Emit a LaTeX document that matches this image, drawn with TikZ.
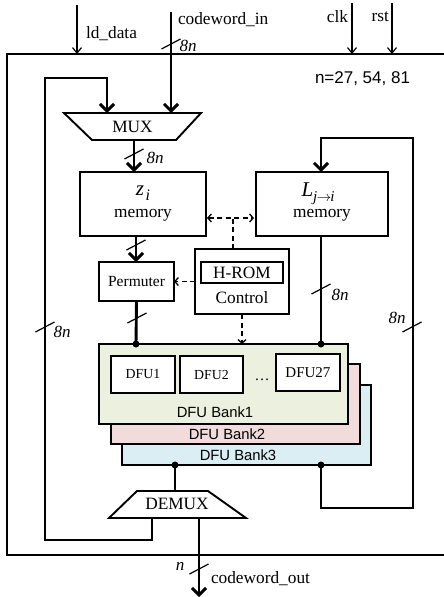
\documentclass[tikz,border=0pt]{standalone}
\usepackage{fontspec}
\setmainfont{Liberation Serif}
\newfontfamily\sansf{Liberation Sans}
\usetikzlibrary{arrows.meta,calc}
\definecolor{bankA}{HTML}{EBF1DE}
\definecolor{bankB}{HTML}{F2DCDB}
\definecolor{bankC}{HTML}{DBEEF3}
\tikzset{busmark/.pic={\draw[line width=1.2pt] (-9.5,5) -- (9.5,-5);}}
\begin{document}
\begin{tikzpicture}[x=1pt,y=-1pt,
  every node/.style={inner sep=0pt, outer sep=0pt},
  lbl/.style={font=\fontsize{17.3}{19}\selectfont},
  buslbl/.style={font=\fontsize{17}{19}\selectfont\itshape},
  boxst/.style={draw, line width=1.9pt, fill=white},
  bankst/.style={draw, line width=1.7pt, minimum width=249pt, minimum height=80pt},
  banklbl/.style={font=\sansf\fontsize{14.8}{16}\selectfont},
  dfust/.style={draw, line width=1.5pt, fill=white, minimum width=64pt, minimum height=37pt, font=\fontsize{13.8}{15}\selectfont},
  thickbus/.style={line width=2.9pt},
  thickarrow/.style={line width=2.9pt, -{Straight Barb[length=7pt,width=14pt]}},
  thinarrow/.style={line width=1.2pt, -{Straight Barb[length=5.5pt,width=9pt]}},
  dashline/.style={line width=1.3pt, dash pattern=on 5pt off 3.5pt},
  dasharrow/.style={dashline, -{Straight Barb[length=3.5pt,width=8pt]}},
  dasharrows/.style={dashline, {Straight Barb[length=3.5pt,width=8pt]}-{Straight Barb[length=3.5pt,width=8pt]}},
  dotst/.style={circle, fill=black, minimum size=7pt}
]
\useasboundingbox (0,0) rectangle (444,597);
\fill[white] (0,0) rectangle (444,597);

% outer frame
\node[draw, line width=1.4pt, minimum width=445pt, minimum height=501pt, anchor=north west] (frame) at (7,54) {};

% top inputs
\coordinate (ldtop) at (77,5);
\coordinate (cwin) at (171,12);
\coordinate (clktop) at (352,3);
\coordinate (rsttop) at (392,3);
\draw[thinarrow] (ldtop) -- (ldtop |- frame.north);
\draw[thinarrow] (clktop) -- (clktop |- frame.north);
\draw[thinarrow] (rsttop) -- (rsttop |- frame.north);
\node[lbl, anchor=west] (ldlbl) at (86,34) {ld\_data};
\node[lbl, anchor=west] (cwinlbl) at (178,20) {codeword\_in};
\node[lbl, anchor=east] (clklbl) at (348,17) {clk};
\node[lbl, anchor=east] (rstlbl) at (389,17) {rst};
\node[anchor=west, font=\sansf\fontsize{17}{19}\selectfont] (nlbl) at (315,79) {n=27, 54, 81};

% MUX
\draw[line width=1.9pt] (64,113) -- (201,113) -- (176,140) -- (92,140) -- cycle;
\node[lbl] (mux) at (132.5,127) {MUX};
\coordinate (muxinA) at (107,113);
\coordinate (muxinB) at (171,113);
\coordinate (muxout) at (134,140);

\draw[thickarrow] (cwin) -- (muxinB);
\pic at (171,44) {busmark};
\node[buslbl] (b1) at (188,46) {8n};

% memories
\node[boxst, minimum width=126pt, minimum height=64pt] (zmem) at (143,204) {};
\node[boxst, minimum width=132pt, minimum height=64pt] (Lmem) at (322,204) {};
\node (ztxt) at (143,193) {{\fontsize{21}{21}\selectfont\itshape z}\,\raisebox{-5pt}{\fontsize{16}{16}\selectfont\itshape i}};
\node[lbl] (zmemtxt) at (143,215) {memory};
\node (Ltxt) at (318,194) {{\fontsize{21}{21}\selectfont\itshape L}\raisebox{-5pt}{\fontsize{15}{15}\selectfont\itshape j\kern-0.5pt$\rightarrow$\kern-1pti}};
\node[lbl] (Lmemtxt) at (322,215) {memory};

\draw[thickarrow] (muxout) -- (muxout |- zmem.north);
\pic at (134,154) {busmark};
\node[buslbl] (b2) at (155,158) {8n};

% permuter & control
\node[boxst, minimum width=75pt, minimum height=39pt, font=\fontsize{15.5}{16}\selectfont] (perm) at (136.5,281.5) {Permuter};
\node[boxst, minimum width=94pt, minimum height=65pt] (ctrl) at (242,281.5) {};
\node[draw, line width=1.9pt, minimum width=82pt, minimum height=21pt, lbl] (hrom) at (242,272.5) {H-ROM};
\node[lbl] (ctrltxt) at (242,298) {Control};

\coordinate (zout) at (136,236);
\draw[thickarrow] (zout) -- (zout |- perm.north);
\pic at (136,245) {busmark};

% dashed control lines
\coordinate (dashL) at (207,218);
\coordinate (dashR) at (254,218);
\draw[dasharrows] (dashL) -- (dashR);
\coordinate (ctrltop) at (233,218);
\draw[dashline] (ctrltop |- ctrl.north) -- (ctrltop);
\draw[dasharrow] (ctrl.west |- perm.east) -- (perm.east);

% DFU banks
\node[bankst, fill=bankC] (bank3) at (246.5,425) {};
\node[bankst, fill=bankB] (bank2) at (235.5,404) {};
\node[bankst, fill=bankA] (bank1) at (223.5,384) {};
\node[banklbl] (bank1lbl) at (215,412) {DFU Bank1};
\node[banklbl] (bank2lbl) at (227,434) {DFU Bank2};
\node[banklbl] (bank3lbl) at (238,455) {DFU Bank3};
\node[dfust] (dfu1) at (143,374.5) {DFU1};
\node[dfust, minimum width=63pt] (dfu2) at (211.5,374.5) {DFU2};
\node[font=\fontsize{15}{16}\selectfont] (dots) at (262,380) {\dots};
\node[dfust, font=\fontsize{15}{16}\selectfont] (dfu27) at (308,372.5) {DFU27};

% into bank1
\coordinate (pin) at (136,344);
\coordinate (lin) at (321,344);
\draw[thickbus] (perm.south) -- (pin);
\pic at (137,318) {busmark};
\draw[thickbus] (lin |- Lmem.south) -- (lin);
\pic at (321,289) {busmark};
\node[buslbl] (b3) at (340,295) {8n};
\node[dotst] (dotp) at (pin) {};
\node[dotst] (dotl) at (lin) {};
\coordinate (ctrlbot) at (242,314);
\draw[dasharrow] (ctrlbot) -- (ctrlbot |- bank1.north);

% DEMUX
\draw[line width=1.9pt] (137,491) -- (208,491) -- (246,518) -- (109,518) -- cycle;
\node[lbl] (demux) at (177,504) {DEMUX};
\coordinate (b3L) at (175,465);
\coordinate (b3R) at (321,465);
\coordinate (demuxin) at (175,491);
\draw[thickbus] (b3L) -- (demuxin);
\node[dotst] (dot3L) at (b3L) {};

% right loop
\coordinate (rloopB) at (413,508);
\coordinate (rloopT) at (413,138);
\coordinate (Lin) at (321,172);
\draw[thickarrow] (b3R) |- (rloopB) -- (rloopT) -| (Lin);
\node[dotst] (dot3R) at (b3R) {};
\pic at (412,327) {busmark};
\node[buslbl] (b4) at (397,318) {8n};

% left loop
\coordinate (demuxL) at (152,518);
\coordinate (lloopB) at (45,540);
\coordinate (lloopT) at (45,78);
\draw[thickarrow] (demuxL) |- (lloopB) -- (lloopT) -| (muxinA);
\pic at (45,327) {busmark};
\node[buslbl] (b5) at (62,332) {8n};

% output
\coordinate (demuxout) at (199,518);
\coordinate (cwout) at (199,597);
\draw[thickarrow] (demuxout) -- (cwout);
\pic at (199,569) {busmark};
\node[buslbl] (b6) at (180,566) {n};
\node[lbl, anchor=west] (cwoutlbl) at (211,579) {codeword\_out};
\end{tikzpicture}
\end{document}
